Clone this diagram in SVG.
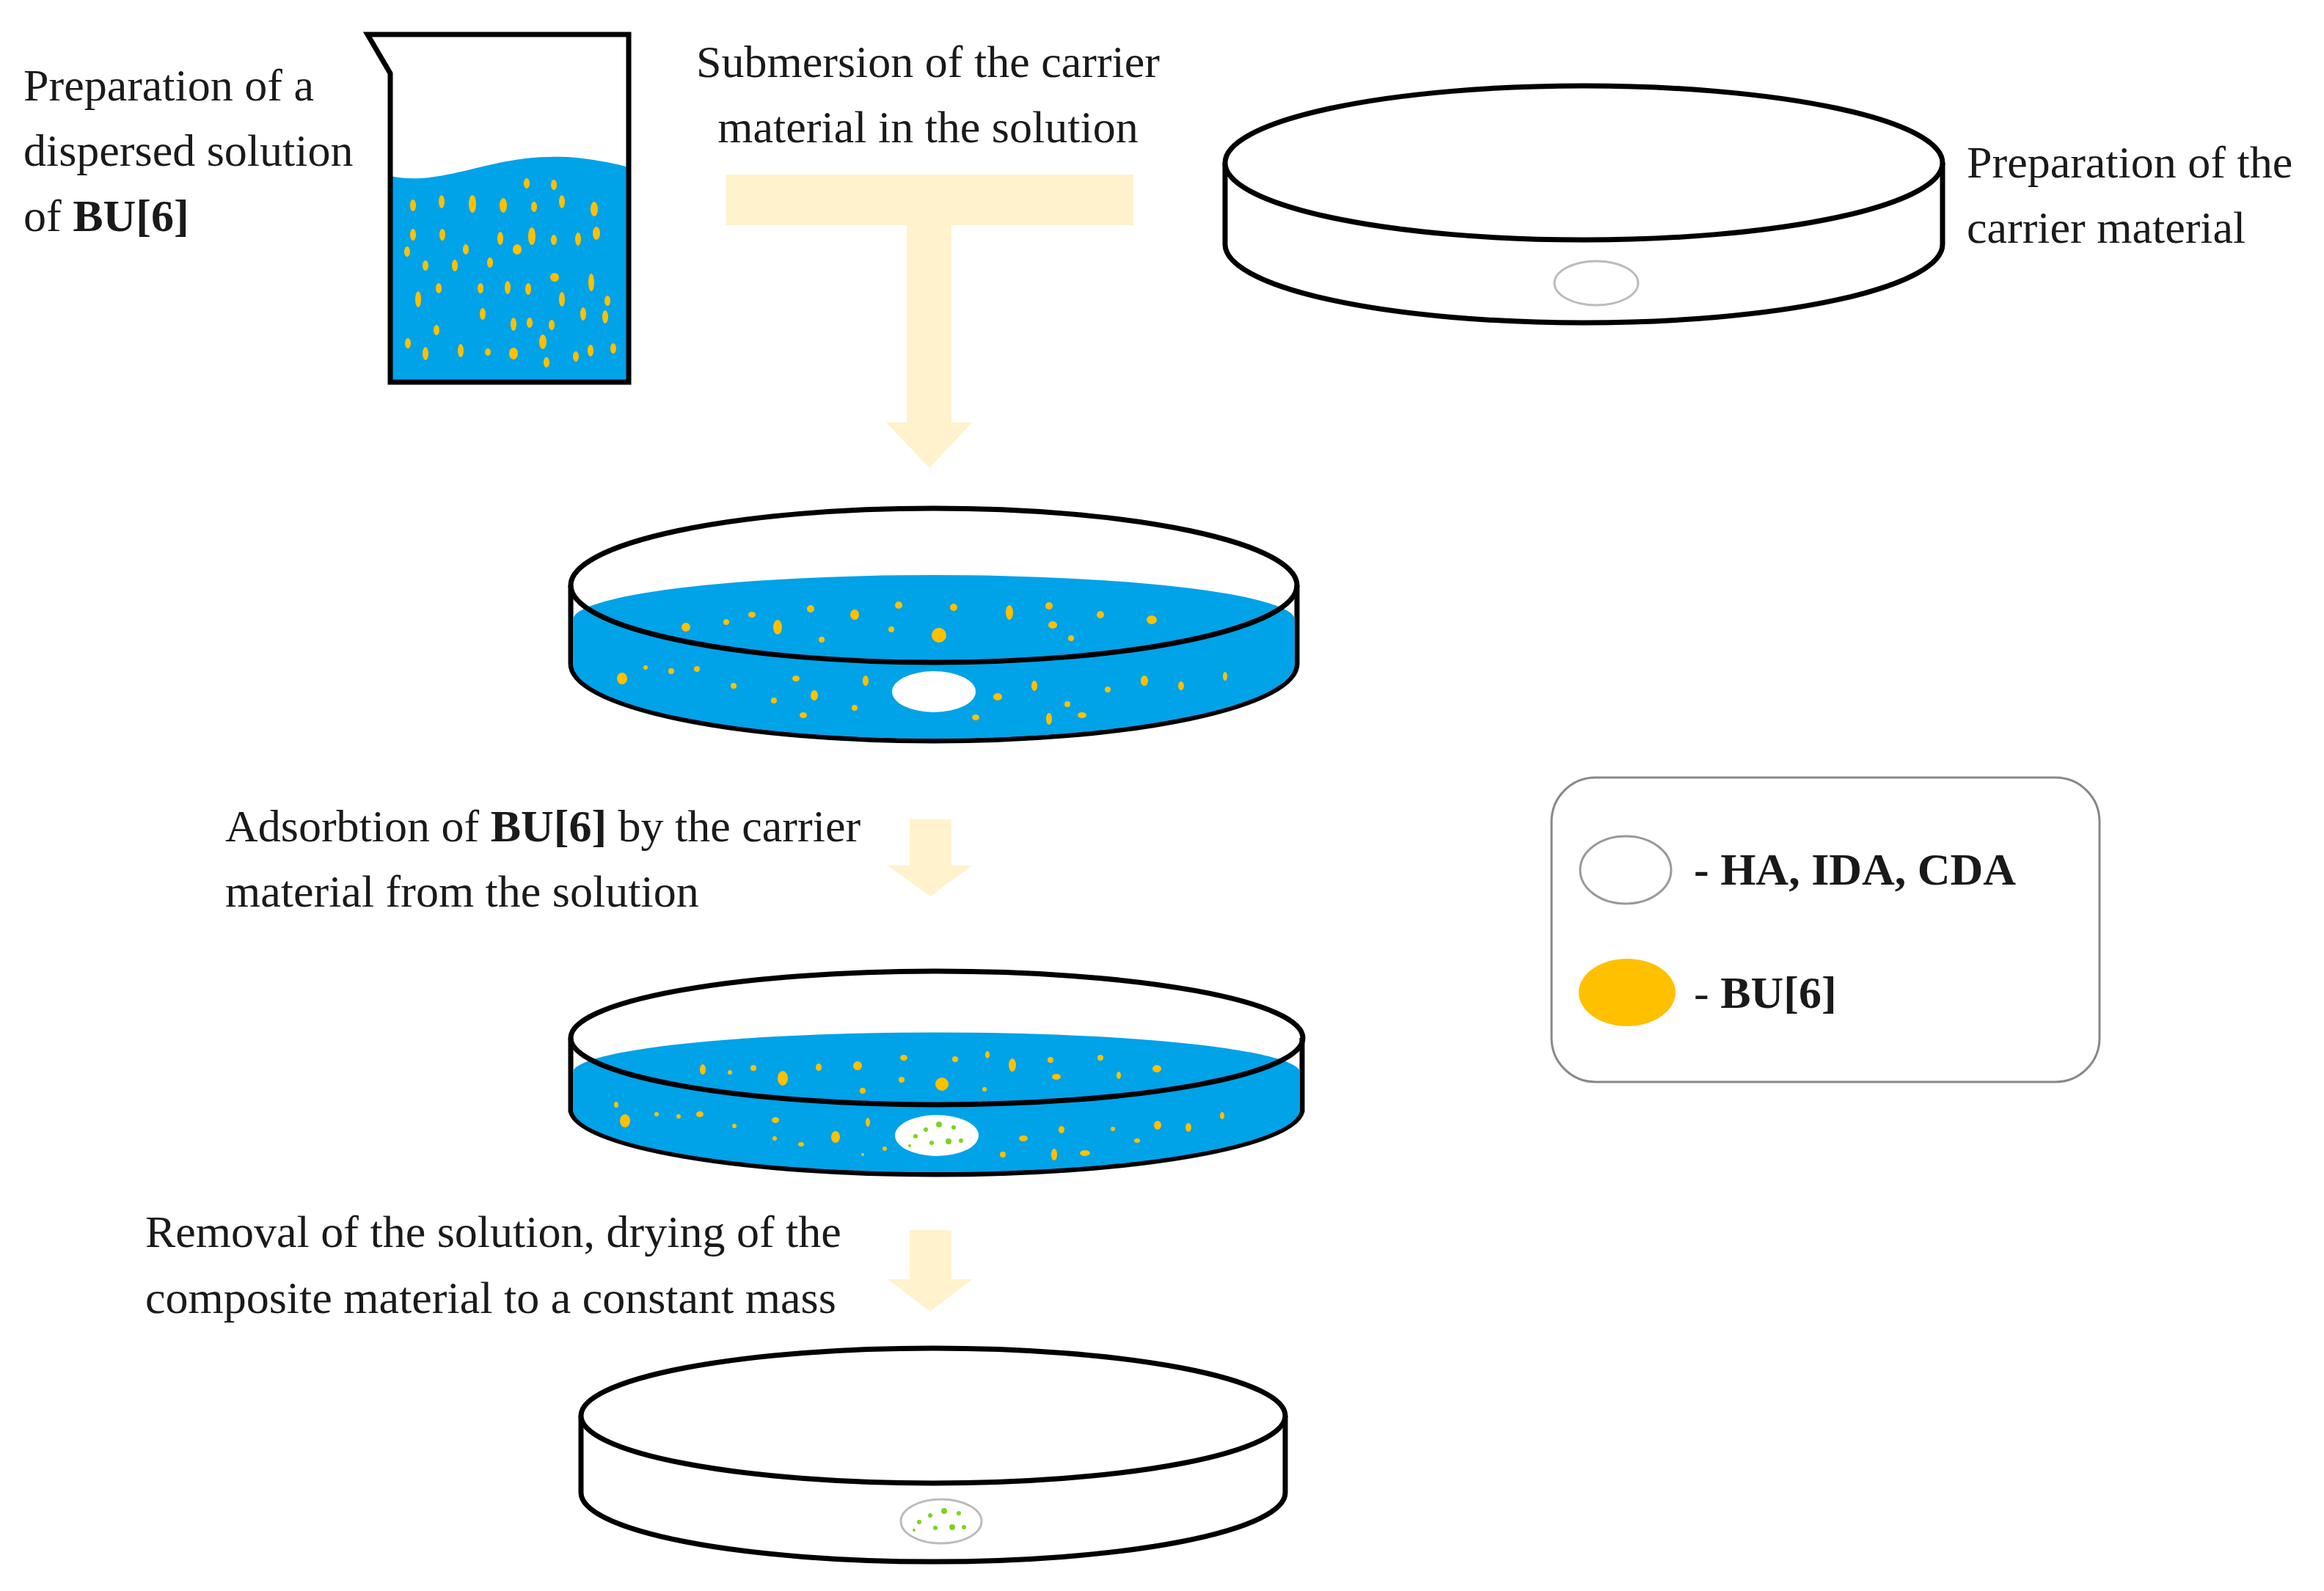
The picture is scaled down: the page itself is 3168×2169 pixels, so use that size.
<svg xmlns="http://www.w3.org/2000/svg" width="3168" height="2169" viewBox="0 0 3168 2169">
<style>
.t{font-family:"Liberation Serif","Times New Roman",serif;font-size:62px;fill:#1a1a1a}
.b{font-weight:bold}
.k{fill:none;stroke:#000;stroke-width:7}
.w{fill:#fff;stroke:#000;stroke-width:7}
.blue{fill:#00A2E8}
.y{fill:#FFC000}
.g{fill:#7ED321}
.arr{fill:#FFF2CC}
</style>
<rect width="3168" height="2169" fill="#fff"/>
<g id="beaker">
<path class="blue" d="M532,240 C580,250 620,235 680,222 C730,212 780,208 857,228 L857,521 L532,521 Z"/>
<g class="y">
<ellipse cx="563" cy="280" rx="4" ry="8"/><ellipse cx="602" cy="275" rx="4" ry="9"/><ellipse cx="644" cy="278" rx="5" ry="12"/><ellipse cx="686" cy="280" rx="5" ry="10"/><ellipse cx="728" cy="282" rx="4" ry="7"/><ellipse cx="766" cy="275" rx="4" ry="9"/><ellipse cx="810" cy="285" rx="5" ry="10"/>
<ellipse cx="718" cy="250" rx="4" ry="7"/><ellipse cx="755" cy="252" rx="4" ry="7"/>
<ellipse cx="563" cy="320" rx="4" ry="8"/><ellipse cx="603" cy="320" rx="4" ry="8"/><ellipse cx="682" cy="325" rx="4" ry="9"/><ellipse cx="725" cy="322" rx="5" ry="12"/><ellipse cx="755" cy="327" rx="4" ry="7"/><ellipse cx="788" cy="326" rx="4" ry="9"/><ellipse cx="813" cy="318" rx="5" ry="9"/>
<ellipse cx="555" cy="343" rx="4" ry="7"/><ellipse cx="635" cy="340" rx="4" ry="7"/><ellipse cx="705" cy="340" rx="6" ry="7"/>
<ellipse cx="580" cy="362" rx="4" ry="7"/><ellipse cx="620" cy="362" rx="4" ry="8"/><ellipse cx="668" cy="358" rx="4" ry="7"/>
<ellipse cx="598" cy="393" rx="4" ry="7"/><ellipse cx="655" cy="393" rx="4" ry="7"/><ellipse cx="692" cy="392" rx="4" ry="9"/><ellipse cx="720" cy="394" rx="4" ry="8"/><ellipse cx="756" cy="378" rx="6" ry="6"/><ellipse cx="806" cy="385" rx="4" ry="12"/>
<ellipse cx="570" cy="408" rx="4" ry="11"/><ellipse cx="766" cy="408" rx="4" ry="10"/><ellipse cx="828" cy="410" rx="4" ry="7"/>
<ellipse cx="658" cy="428" rx="4" ry="8"/><ellipse cx="795" cy="428" rx="4" ry="9"/><ellipse cx="825" cy="432" rx="4" ry="9"/>
<ellipse cx="700" cy="442" rx="4" ry="9"/><ellipse cx="722" cy="440" rx="4" ry="7"/><ellipse cx="752" cy="443" rx="4" ry="7"/>
<ellipse cx="595" cy="450" rx="4" ry="7"/><ellipse cx="556" cy="468" rx="4" ry="7"/><ellipse cx="740" cy="466" rx="5" ry="10"/>
<ellipse cx="580" cy="482" rx="4" ry="9"/><ellipse cx="628" cy="478" rx="4" ry="9"/><ellipse cx="665" cy="480" rx="4" ry="5"/><ellipse cx="700" cy="482" rx="6" ry="8"/><ellipse cx="785" cy="486" rx="4" ry="7"/><ellipse cx="805" cy="478" rx="4" ry="8"/><ellipse cx="836" cy="475" rx="4" ry="7"/><ellipse cx="745" cy="494" rx="4" ry="7"/>
</g>
<path class="k" d="M501,47 L857,47 L857,521 L532,521 L532,100 Z"/>
</g>
<g id="labels">
<text class="t" x="32" y="137">Preparation of a</text>
<text class="t" x="32" y="226">dispersed solution</text>
<text class="t" x="32" y="315">of <tspan class="b">BU[6]</tspan></text>
<text class="t" x="1265" y="105" text-anchor="middle">Submersion of the carrier</text>
<text class="t" x="1265" y="194" text-anchor="middle">material in the solution</text>
<text class="t" x="2681" y="242">Preparation of the</text>
<text class="t" x="2681" y="331">carrier material</text>
<text class="t" x="307" y="1147">Adsorbtion of <tspan class="b">BU[6]</tspan> by the carrier</text>
<text class="t" x="307" y="1236">material from the solution</text>
<text class="t" x="198" y="1700">Removal of the solution, drying of the</text>
<text class="t" x="198" y="1790">composite material to a constant mass</text>
</g>
<g id="connectors">
<path class="arr" d="M990,238 L1545,238 L1545,307 L1297,307 L1297,576 L1325,576 L1267,638 L1208,576 L1236,576 L1236,307 L990,307 Z"/>
<path class="arr" d="M1240,1117 L1297,1117 L1297,1180 L1325,1180 L1268,1222 L1210,1180 L1240,1180 Z"/>
<path class="arr" d="M1240,1677 L1297,1677 L1297,1744 L1325,1744 L1268,1788 L1210,1744 L1240,1744 Z"/>
</g>
<g id="dish1">
<path class="w" d="M1670,222 L1670,333 A489,107 0 0 0 2648,333 L2648,222"/>
<ellipse class="w" cx="2159" cy="222" rx="489" ry="105"/>
<ellipse cx="2176" cy="386" rx="57" ry="30" fill="#fff" stroke="#bbb" stroke-width="3"/>
</g>
<g id="dish2">
<path class="w" d="M778,798 L778,905 A495,105 0 0 0 1768,905 L1768,798"/>
<path class="blue" d="M781,845 A492,61 0 0 1 1765,845 L1765,905 A492,102 0 0 1 781,905 Z"/>
<g class="y">
<ellipse cx="935" cy="855" rx="6" ry="6"/><ellipse cx="990" cy="848" rx="4" ry="4"/><ellipse cx="1025" cy="838" rx="5" ry="4"/><ellipse cx="1060" cy="855" rx="6" ry="10"/><ellipse cx="1105" cy="830" rx="5" ry="5"/><ellipse cx="1165" cy="838" rx="6" ry="7"/><ellipse cx="1225" cy="825" rx="5" ry="5"/><ellipse cx="1280" cy="866" rx="10" ry="10"/><ellipse cx="1300" cy="828" rx="5" ry="5"/><ellipse cx="1376" cy="835" rx="5" ry="10"/><ellipse cx="1430" cy="826" rx="5" ry="5"/><ellipse cx="1435" cy="852" rx="6" ry="5"/><ellipse cx="1500" cy="838" rx="5" ry="5"/><ellipse cx="1570" cy="845" rx="7" ry="6"/><ellipse cx="1215" cy="858" rx="4" ry="4"/><ellipse cx="1120" cy="872" rx="4" ry="4"/><ellipse cx="1460" cy="870" rx="4" ry="4"/>
<ellipse cx="848" cy="925" rx="7" ry="8"/><ellipse cx="880" cy="910" rx="3" ry="3"/><ellipse cx="915" cy="915" rx="4" ry="4"/><ellipse cx="950" cy="912" rx="4" ry="4"/><ellipse cx="1000" cy="935" rx="4" ry="4"/><ellipse cx="1085" cy="925" rx="5" ry="4"/><ellipse cx="1055" cy="955" rx="4" ry="4"/><ellipse cx="1110" cy="948" rx="5" ry="7"/><ellipse cx="1095" cy="975" rx="5" ry="4"/><ellipse cx="1180" cy="928" rx="4" ry="7"/><ellipse cx="1165" cy="965" rx="4" ry="4"/><ellipse cx="1360" cy="950" rx="6" ry="5"/><ellipse cx="1410" cy="935" rx="4" ry="7"/><ellipse cx="1455" cy="960" rx="4" ry="4"/><ellipse cx="1510" cy="940" rx="4" ry="4"/><ellipse cx="1560" cy="928" rx="5" ry="7"/><ellipse cx="1610" cy="935" rx="4" ry="6"/><ellipse cx="1330" cy="978" rx="5" ry="4"/><ellipse cx="1430" cy="980" rx="4" ry="8"/><ellipse cx="1475" cy="975" rx="6" ry="4"/><ellipse cx="1670" cy="922" rx="3" ry="6"/>
</g>
<ellipse cx="1273" cy="943" rx="57" ry="28" fill="#fff"/>
<ellipse class="k" cx="1273" cy="798" rx="495" ry="105"/>
</g>
<g id="dish3">
<path class="w" d="M778,1415 L778,1515 A499,90 0 0 0 1775,1515 L1775,1415"/>
<path class="blue" d="M781,1460 A496,55 0 0 1 1772,1460 L1772,1515 A496,87 0 0 1 781,1515 Z"/>
<g class="y">
<ellipse cx="958" cy="1458" rx="4" ry="7"/><ellipse cx="995" cy="1462" rx="3" ry="3"/><ellipse cx="1027" cy="1456" rx="4" ry="4"/><ellipse cx="1067" cy="1470" rx="7" ry="10"/><ellipse cx="1116" cy="1455" rx="4" ry="5"/><ellipse cx="1169" cy="1453" rx="6" ry="6"/><ellipse cx="1176" cy="1487" rx="4" ry="4"/><ellipse cx="1232" cy="1442" rx="5" ry="4"/><ellipse cx="1229" cy="1472" rx="4" ry="4"/><ellipse cx="1284" cy="1478" rx="9" ry="9"/><ellipse cx="1302" cy="1444" rx="4" ry="4"/><ellipse cx="1346" cy="1438" rx="3" ry="5"/><ellipse cx="1380" cy="1452" rx="5" ry="9"/><ellipse cx="1432" cy="1445" rx="4" ry="4"/><ellipse cx="1440" cy="1468" rx="6" ry="4"/><ellipse cx="1500" cy="1442" rx="4" ry="4"/><ellipse cx="1525" cy="1466" rx="3" ry="5"/><ellipse cx="1577" cy="1457" rx="6" ry="5"/><ellipse cx="1342" cy="1485" rx="3" ry="3"/>
<ellipse cx="840" cy="1506" rx="3" ry="4"/><ellipse cx="852" cy="1528" rx="7" ry="9"/><ellipse cx="895" cy="1519" rx="3" ry="3"/><ellipse cx="925" cy="1522" rx="3" ry="3"/><ellipse cx="954" cy="1519" rx="5" ry="4"/><ellipse cx="1001" cy="1535" rx="3" ry="3"/><ellipse cx="1057" cy="1527" rx="5" ry="4"/><ellipse cx="1056" cy="1552" rx="3" ry="3"/><ellipse cx="1092" cy="1560" rx="4" ry="3"/><ellipse cx="1139" cy="1550" rx="6" ry="8"/><ellipse cx="1183" cy="1530" rx="3" ry="6"/><ellipse cx="1206" cy="1566" rx="3" ry="3"/><ellipse cx="1176" cy="1574" rx="2" ry="2"/><ellipse cx="1395" cy="1552" rx="6" ry="4"/><ellipse cx="1447" cy="1540" rx="4" ry="5"/><ellipse cx="1437" cy="1574" rx="4" ry="8"/><ellipse cx="1479" cy="1572" rx="7" ry="4"/><ellipse cx="1367" cy="1574" rx="4" ry="4"/><ellipse cx="1517" cy="1539" rx="3" ry="3"/><ellipse cx="1550" cy="1555" rx="4" ry="3"/><ellipse cx="1578" cy="1534" rx="5" ry="6"/><ellipse cx="1620" cy="1537" rx="4" ry="6"/><ellipse cx="1666" cy="1521" rx="3" ry="5"/>
</g>
<ellipse cx="1277" cy="1548" rx="57" ry="28" fill="#fff"/>
<g class="g"><circle cx="1248" cy="1549" r="3"/><circle cx="1262" cy="1540" r="3"/><circle cx="1280" cy="1533" r="4"/><circle cx="1300" cy="1537" r="3"/><circle cx="1270" cy="1558" r="3"/><circle cx="1293" cy="1556" r="4"/><circle cx="1310" cy="1555" r="3"/><circle cx="1240" cy="1562" r="2"/></g>
<ellipse class="k" cx="1277" cy="1415" rx="499" ry="91"/>
</g>
<g id="dish4">
<path class="w" d="M792,1930 L792,2035 A480,94 0 0 0 1752,2035 L1752,1930"/>
<ellipse class="w" cx="1272" cy="1930" rx="480" ry="92"/>
<ellipse cx="1283" cy="2074" rx="55" ry="30" fill="#fff" stroke="#bbb" stroke-width="3"/>
<g class="g"><circle cx="1253" cy="2075" r="3"/><circle cx="1268" cy="2066" r="3"/><circle cx="1287" cy="2060" r="4"/><circle cx="1307" cy="2063" r="3"/><circle cx="1275" cy="2083" r="3"/><circle cx="1298" cy="2082" r="4"/><circle cx="1314" cy="2082" r="3"/><circle cx="1246" cy="2086" r="2"/></g>
</g>
<g id="legend">
<rect x="2115" y="1060" width="747" height="415" rx="60" fill="#fff" stroke="#888" stroke-width="3"/>
<ellipse cx="2216" cy="1186" rx="62" ry="46" fill="#fff" stroke="#999" stroke-width="3"/>
<text class="t b" x="2309" y="1206">- HA, IDA, CDA</text>
<ellipse cx="2218" cy="1353" rx="66" ry="46" fill="#FFC000"/>
<text class="t" x="2309" y="1374">- <tspan class="b">BU[6]</tspan></text>
</g>
</svg>
